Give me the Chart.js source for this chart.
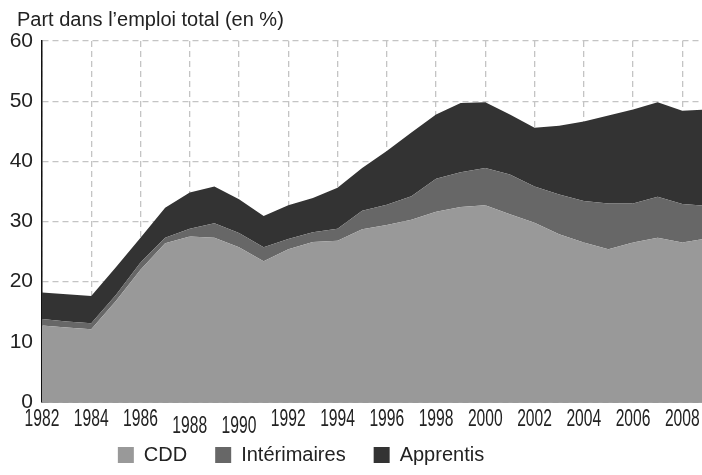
<!DOCTYPE html>
<html>
<head>
<meta charset="utf-8">
<script src="https://cdn.jsdelivr.net/npm/chart.js@4/dist/chart.umd.min.js"></script>
<style>
  html, body { margin: 0; padding: 0; background: #fff; }
  #wrap { width: 702px; height: 475px; }
</style>
</head>
<body>
<div id="wrap"><canvas id="chart"></canvas></div>
<script>
// Years and series (share of total employment, %)
const years = [1982, 1983, 1984, 1985, 1986, 1987, 1988, 1989, 1990, 1991, 1992, 1993, 1994, 1995,
  1996, 1997, 1998, 1999, 2000, 2001, 2002, 2003, 2004, 2005, 2006, 2007, 2008, 2009];
const cdd = [12.7, 12.4, 12.1, 16.8, 22.0, 26.4, 27.5, 27.3, 25.7, 23.4, 25.4, 26.6, 26.8, 28.7,
  29.4, 30.3, 31.6, 32.4, 32.7, 31.2, 29.8, 27.9, 26.5, 25.4, 26.5, 27.3, 26.5, 27.2];
const interimaires = [1.1, 1.0, 1.0, 1.0, 1.2, 0.9, 1.3, 2.4, 2.4, 2.3, 1.7, 1.6, 2.0, 3.1,
  3.4, 3.9, 5.5, 5.8, 6.2, 6.6, 6.0, 6.6, 6.9, 7.6, 6.5, 6.8, 6.4, 5.4];
const apprentis = [4.4, 4.5, 4.5, 4.6, 4.1, 5.0, 6.0, 6.1, 5.6, 5.2, 5.6, 5.7, 6.8, 7.1,
  8.9, 10.6, 10.7, 11.5, 10.9, 10.0, 9.8, 11.4, 13.2, 14.6, 15.6, 15.7, 15.5, 16.0];
const xTicks = [1982, 1984, 1986, 1988, 1990, 1992, 1994, 1996, 1998, 2000, 2002, 2004, 2006, 2008];
const seriesNames = ['CDD', 'Intérimaires', 'Apprentis'];

const gridDash = { display: true, color: '#c4c4c4', lineWidth: 1.3, drawTicks: false };

function toPoints(arr) {
  return arr.map((v, i) => ({ x: years[i], y: v }));
}

// move title / legend sideways to where the original has them
const nudge = {
  id: 'nudge',
  afterLayout(chart) {
    chart.titleBlock.left += 13;
    chart.legend.left -= 52;
    chart.legend.right -= 52;
  }
};

// condensed year labels under the x axis (1988 and 1990 sit a bit lower, as in the original)
const xLabels = {
  id: 'xLabels',
  afterDraw(chart) {
    const { ctx } = chart;
    const x = chart.scales.x;
    ctx.save();
    ctx.fillStyle = '#222';
    ctx.font = '23px "Liberation Sans", Arial, sans-serif';
    ctx.textAlign = 'center';
    ctx.textBaseline = 'alphabetic';
    xTicks.forEach(year => {
      const drop = (year === 1988 || year === 1990) ? 7 : 0;
      ctx.save();
      ctx.translate(x.getPixelForValue(year), x.top + 24 + drop);
      ctx.scale(0.68, 1);
      ctx.fillText(String(year), 0, 0);
      ctx.restore();
    });
    ctx.restore();
  }
};

const ctx = document.getElementById('chart').getContext('2d');
new Chart(ctx, {
  type: 'line',
  data: {
    datasets: [
      { label: seriesNames[0], data: toPoints(cdd), backgroundColor: '#999999', fill: 'origin' },
      { label: seriesNames[1], data: toPoints(interimaires), backgroundColor: '#676767', fill: '-1' },
      { label: seriesNames[2], data: toPoints(apprentis), backgroundColor: '#333333', fill: '-1' }
    ]
  },
  options: {
    responsive: true,
    maintainAspectRatio: false,
    animation: false,
    layout: { padding: { left: 4, right: 0, top: 4, bottom: 0 } },
    elements: {
      point: { radius: 0 },
      line: { borderWidth: 0, tension: 0 }
    },
    scales: {
      x: {
        type: 'linear',
        min: 1982,
        max: 2008.8,
        z: 1,
        afterBuildTicks: axis => { axis.ticks = xTicks.map(v => ({ value: v })); },
        afterFit: axis => { axis.height = 15; },
        grid: gridDash,
        border: { display: true, color: '#444', width: 1.5, dash: [6, 4] },
        ticks: { display: false }
      },
      y: {
        stacked: true,
        min: 0,
        max: 60,
        z: 1,
        afterFit: axis => { axis.width = 38; },
        grid: gridDash,
        border: { display: true, color: '#111', width: 1.5, dash: [6, 4] },
        ticks: {
          stepSize: 10,
          padding: 9,
          color: '#222',
          font: { family: '"Liberation Sans", Arial, sans-serif', size: 21 }
        }
      }
    },
    plugins: {
      title: {
        display: true,
        text: 'Part dans l\u2019emploi total (en %)',
        align: 'start',
        color: '#222',
        font: { family: '"Liberation Sans", Arial, sans-serif', size: 20, weight: 'normal' },
        padding: { top: 4, bottom: 9 }
      },
      legend: {
        position: 'bottom',
        labels: {
          boxWidth: 16,
          boxHeight: 16,
          padding: 28,
          color: '#222',
          font: { family: '"Liberation Sans", Arial, sans-serif', size: 20 }
        }
      },
      tooltip: { enabled: false }
    }
  },
  plugins: [nudge, xLabels]
});
</script>
</body>
</html>
